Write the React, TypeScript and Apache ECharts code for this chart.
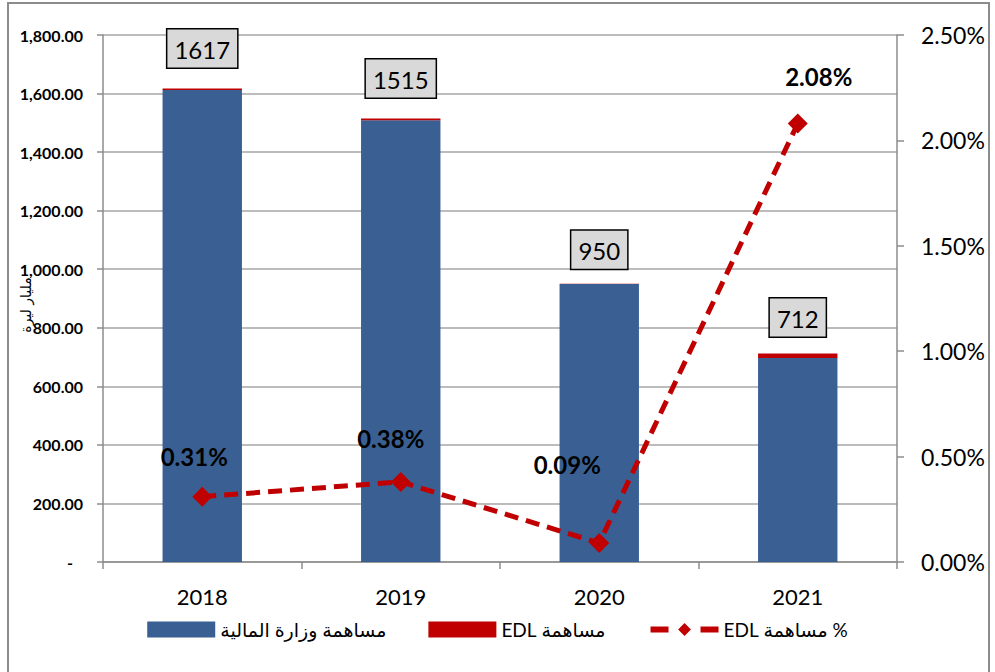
import React, { useEffect, useRef } from "react";
import * as echarts from "echarts";

const years = ["2018", "2019", "2020", "2021"];
const totals = [1617, 1515, 950, 712];
const financeValues = [1612, 1509.2, 949.1, 697.2];
const edlValues = [5, 5.8, 0.9, 14.8];
const edlPct = [0.31, 0.38, 0.09, 2.08];
const leftTicks = { min: 0, max: 1800, interval: 200 };
const rightTicks = { min: 0, max: 2.5, interval: 0.5 };

const RLE = "\u202B";
const seriesNames = [
  RLE + "مساهمة وزارة المالية",
  RLE + "مساهمة EDL",
  RLE + "% مساهمة EDL",
];
const yAxisName = "مليار ليرة";

const totalLabelOffsets = [[0, -5], [0, -5], [0, 1], [0, -1]];
const pctLabelOffsets = [[-8, -40], [-10, -43], [-32, -79], [21, -47]];

const FONT = "Lato, 'DejaVu Sans', sans-serif";

export default function App() {
  const ref = useRef<HTMLDivElement>(null);
  useEffect(() => {
    document.body.style.margin = "0";
    const chart = echarts.init(ref.current!, null, { renderer: "svg" });
    const option: any = {
      animation: false,
      backgroundColor: "#ffffff",
      textStyle: { fontFamily: FONT },
      grid: { left: 103, right: 98, top: 35, bottom: 110 },
      legend: {
        bottom: 28,
        left: "center",
        itemWidth: 68,
        itemHeight: 16,
        itemGap: 42,
        textStyle: { fontSize: 19, color: "#000", fontFamily: FONT },
        data: [
          { name: seriesNames[0], icon: "rect" },
          { name: seriesNames[1], icon: "rect" },
          {
            name: seriesNames[2],
            lineStyle: { type: [18, 32], width: 6, color: "#c00000" },
          },
        ],
      },
      xAxis: {
        type: "category",
        data: years,
        axisLine: { lineStyle: { color: "#8c8c8c", width: 1.5 } },
        axisTick: { show: true, length: 7, lineStyle: { color: "#8c8c8c", width: 1.5 } },
        axisLabel: { color: "#000", fontSize: 22, margin: 23, fontFamily: FONT },
      },
      yAxis: [
        {
          type: "value",
          min: leftTicks.min,
          max: leftTicks.max,
          interval: leftTicks.interval,
          axisLine: { show: true, lineStyle: { color: "#8c8c8c", width: 1.5 } },
          axisTick: { show: true, length: 6, lineStyle: { color: "#8c8c8c", width: 1.5 } },
          splitLine: { show: true, lineStyle: { color: "#a6a6a6", width: 1.5 } },
          axisLabel: {
            color: "#000",
            fontSize: 16,
            fontWeight: "bold",
            margin: 20,
            fontFamily: FONT,
            formatter: (v: number) =>
              v === 0
                ? "{d|-}"
                : v.toLocaleString("en-US", { minimumFractionDigits: 2, maximumFractionDigits: 2 }),
            rich: { d: { fontSize: 16, fontWeight: "bold", color: "#000", padding: [0, 10, 0, 0] } },
          },
        },
        {
          type: "value",
          min: rightTicks.min,
          max: rightTicks.max,
          interval: rightTicks.interval,
          position: "right",
          axisLine: { show: true, lineStyle: { color: "#8c8c8c", width: 1.5 } },
          axisTick: { show: true, length: 7, lineStyle: { color: "#8c8c8c", width: 1.5 } },
          splitLine: { show: false },
          axisLabel: {
            color: "#000",
            fontSize: 23,
            margin: 24,
            fontFamily: FONT,
            formatter: (v: number) => v.toFixed(2) + "%",
          },
        },
      ],
      series: [
        {
          name: seriesNames[0],
          type: "bar",
          stack: "total",
          barWidth: "40%",
          itemStyle: { color: "#3a6093" },
          data: financeValues,
        },
        {
          name: seriesNames[1],
          type: "bar",
          stack: "total",
          itemStyle: { color: "#c00000" },
          data: edlValues.map((v, i) => ({
            value: v,
            label: {
              show: true,
              position: "top",
              distance: 16,
              offset: totalLabelOffsets[i],
              formatter: () => String(totals[i]),
              fontSize: 24,
              color: "#000",
              fontFamily: FONT,
              backgroundColor: "#d9d9d9",
              borderColor: "#000",
              borderWidth: 1.5,
              padding: [8, 7, 6, 7],
            },
          })),
        },
        {
          name: seriesNames[2],
          type: "line",
          yAxisIndex: 1,
          symbol: "diamond",
          symbolSize: 20,
          itemStyle: { color: "#c00000" },
          lineStyle: { color: "#c00000", width: 5, type: [14, 8] },
          data: edlPct.map((v, i) => ({
            value: v,
            label: {
              show: true,
              position: "inside",
              offset: pctLabelOffsets[i],
              formatter: () => v.toFixed(2) + "%",
              fontSize: 24,
              fontWeight: "bold",
              color: "#000",
              fontFamily: FONT,
            },
          })),
        },
      ],
      graphic: [
        {
          type: "rect",
          shape: { x: 8, y: 3, width: 981, height: 700 },
          style: { fill: "none", stroke: "#8c8c8c", lineWidth: 2 },
          silent: true,
        },
        {
          type: "text",
          x: 26,
          y: 305,
          rotation: Math.PI / 2,
          style: {
            text: yAxisName,
            fontSize: 14,
            fill: "#000",
            fontFamily: "'DejaVu Sans', sans-serif",
            align: "center",
            verticalAlign: "middle",
          },
        },
      ],
    };
    chart.setOption(option);
    return () => chart.dispose();
  }, []);
  return <div ref={ref} style={{ width: 995, height: 672 }} />;
}
